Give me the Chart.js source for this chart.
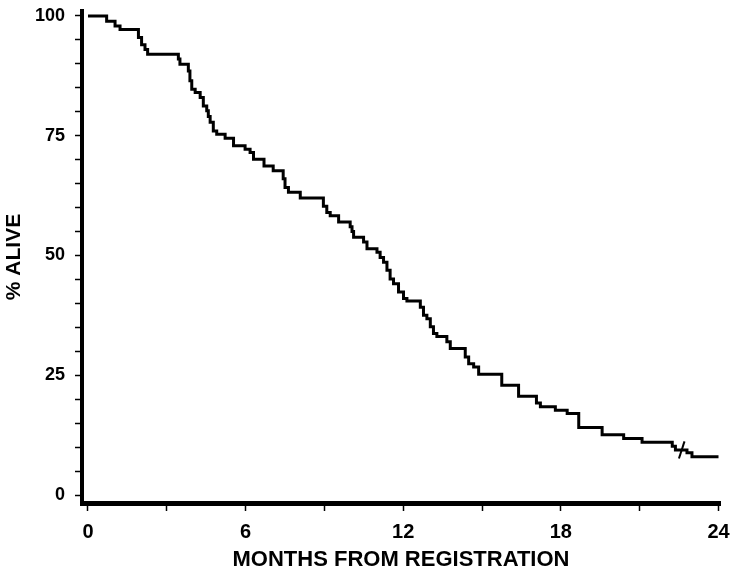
<!DOCTYPE html>
<html>
<head>
<meta charset="utf-8">
<script src="https://cdn.jsdelivr.net/npm/chart.js@4"></script>
<style>
  html, body { margin: 0; padding: 0; background: #fff; }
  #wrap { width: 735px; height: 574px; }
</style>
</head>
<body>
<div id="wrap"><canvas id="km" width="735" height="574"></canvas></div>
<script>
// Kaplan-Meier curve, step values
const months = [
  0, 0.71, 1.03, 1.22, 1.92, 2.04, 2.17, 2.27,
  3.44, 3.50, 3.82, 3.88, 3.95, 4.08, 4.27, 4.39, 4.52, 4.58, 4.65, 4.77, 4.90,
  5.22, 5.54, 5.98, 6.17, 6.30, 6.70, 7.05, 7.43, 7.50, 7.63, 8.08,
  8.96, 9.09, 9.22, 9.54, 9.98, 10.05, 10.11, 10.49, 10.62,
  11.00, 11.12, 11.25, 11.38, 11.50, 11.63, 11.82, 12.01, 12.14,
  12.65, 12.77, 12.90, 13.03, 13.15, 13.28, 13.66, 13.79,
  14.36, 14.49, 14.68, 14.87, 15.75, 16.39, 17.07, 17.22, 17.79,
  18.24, 18.68, 19.57, 20.39, 21.09, 22.24, 22.36, 22.80, 22.99, 24.00
];
const survival = [
  100, 98.9, 97.9, 97.2, 95.5, 94.0, 93.0, 92.0,
  91.0, 89.9, 88.5, 86.5, 84.7, 84.0, 83.0, 81.2, 80.2, 79.0, 77.8, 76.0, 75.3,
  74.5, 72.9, 72.2, 71.5, 70.1, 68.7, 67.7, 66.0, 64.2, 63.2, 62.0,
  60.3, 59.0, 58.3, 57.0, 56.0, 55.0, 53.8, 52.8, 51.4,
  50.7, 49.6, 48.6, 46.9, 45.1, 44.1, 42.4, 41.0, 40.5,
  39.2, 37.5, 36.8, 35.1, 33.7, 33.1, 32.0, 30.6,
  28.8, 27.4, 26.7, 25.2, 22.9, 20.6, 19.2, 18.4, 17.7,
  17.0, 14.1, 12.6, 11.8, 11.0, 10.2, 9.4, 8.8, 8.0, 8.0
];
// censored observation
const censorMonths = [22.6];
const censorSurv = [9.4];

const xTicks = [0, 3, 6, 9, 12, 15, 18, 21, 24];
const yTicks = [0, 5, 10, 15, 20, 25, 30, 35, 40, 45, 50, 55, 60, 65, 70, 75, 80, 85, 90, 95, 100];

const FONT = '"Liberation Sans", Arial, sans-serif';

new Chart(document.getElementById('km'), {
  type: 'scatter',
  data: {
    datasets: [{
      data: months.map((m, i) => ({ x: m, y: survival[i] })),
      showLine: true,
      stepped: 'before',
      borderColor: '#000',
      borderWidth: 3,
      pointRadius: 0,
      fill: false
    }, {
      data: censorMonths.map((m, i) => ({ x: m, y: censorSurv[i] })),
      showLine: false,
      pointStyle: 'line',
      rotation: -72,
      pointRadius: 9,
      borderColor: '#000',
      borderWidth: 2
    }]
  },
  options: {
    responsive: false,
    animation: false,
    layout: { padding: { top: 10, right: 15, bottom: 0, left: 0 } },
    plugins: { legend: { display: false }, tooltip: { enabled: false } },
    scales: {
      x: {
        type: 'linear',
        min: -0.228,
        max: 24.057,
        afterBuildTicks: s => { s.ticks = xTicks.map(v => ({ value: v })); },
        afterFit: s => { s.height = 71; s.paddingLeft = 0; s.paddingRight = 0; },
        border: { display: true, color: '#000', width: 5 },
        grid: { drawOnChartArea: false, drawTicks: true, tickLength: 8, tickWidth: 1.5, tickColor: '#000' },
        ticks: {
          autoSkip: false, maxRotation: 0, padding: 9, color: '#000',
          font: { family: FONT, size: 20, weight: 'bold' },
          callback: v => (v % 6 === 0 ? v : '')
        },
        title: {
          display: true, text: 'MONTHS FROM REGISTRATION', color: '#000',
          font: { family: FONT, size: 22, weight: 'bold' },
          padding: { top: 0, bottom: 1 }
        }
      },
      y: {
        min: -1.67,
        max: 101.04,
        afterBuildTicks: s => { s.ticks = yTicks.map(v => ({ value: v })); },
        afterFit: s => { s.width = 82; s.paddingTop = 0; s.paddingBottom = 0; },
        border: { display: true, color: '#000', width: 4 },
        grid: { drawOnChartArea: false, drawTicks: true, tickLength: 7, tickWidth: 1.5, tickColor: '#000' },
        ticks: {
          autoSkip: false, padding: 10, color: '#000',
          font: { family: FONT, size: 18, weight: 'bold' },
          callback: v => (v % 25 === 0 ? v : '')
        },
        title: {
          display: true, text: '% ALIVE', color: '#000',
          font: { family: FONT, size: 21, weight: 'bold' },
          padding: { top: 2, bottom: 0 }
        }
      }
    }
  }
});
</script>
</body>
</html>
